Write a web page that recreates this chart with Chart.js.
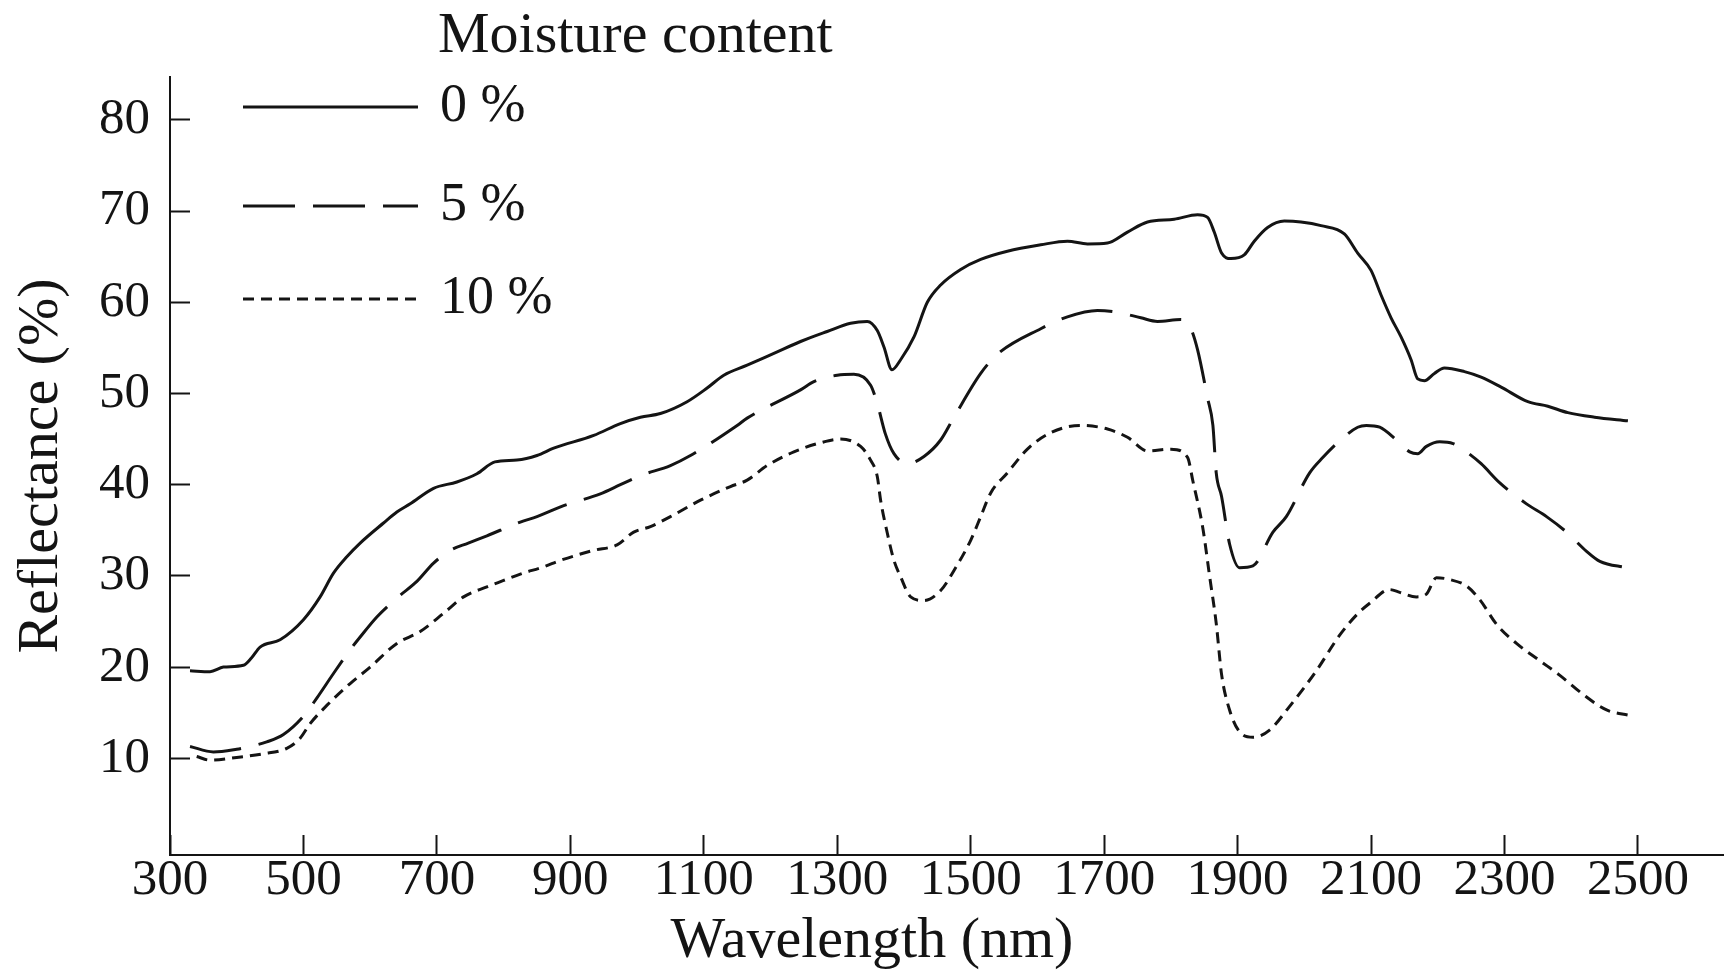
<!DOCTYPE html>
<html>
<head>
<meta charset="utf-8">
<script src="https://cdn.jsdelivr.net/npm/chart.js@4.4.1/dist/chart.umd.min.js"></script>
<style>
  html, body { margin: 0; padding: 0; background: #fff; }
  #wrap { width: 1724px; height: 971px; }
</style>
</head>
<body>
<div id="wrap"><canvas id="spectra"></canvas></div>
<script>
// reflectance spectra, one pair of arrays per moisture level
const wl0 = [330, 360, 380, 410, 422, 435, 465, 500, 525, 545, 565, 585, 620, 640, 660, 695, 730, 760, 787, 820,
  850, 875, 935, 975, 1005, 1035, 1075, 1105, 1130, 1165, 1205, 1245, 1285, 1320, 1345, 1360, 1370, 1382, 1395, 1415,
  1435, 1455, 1485, 1515, 1555, 1605, 1645, 1675, 1705, 1735, 1765, 1805, 1840, 1855, 1865, 1876, 1890, 1910, 1925, 1945,
  1970, 1995, 2025, 2060, 2080, 2100, 2115, 2130, 2145, 2160, 2170, 2180, 2195, 2210, 2240, 2265, 2295, 2335, 2365, 2395,
  2435, 2485];
const refl0 = [19.6, 19.5, 20.0, 20.2, 21.0, 22.2, 23.0, 25.2, 27.7, 30.3, 32.1, 33.6, 35.8, 37.0, 37.9, 39.6, 40.3, 41.2, 42.5, 42.7,
  43.2, 44.0, 45.4, 46.7, 47.4, 47.8, 49.1, 50.6, 52.0, 53.1, 54.4, 55.7, 56.8, 57.7, 57.9, 56.9, 55.1, 52.6, 53.7, 56.2,
  60.0, 61.9, 63.6, 64.7, 65.6, 66.3, 66.7, 66.4, 66.5, 67.7, 68.8, 69.1, 69.6, 69.3, 67.7, 65.4, 64.8, 65.2, 66.7, 68.2,
  68.9, 68.8, 68.4, 67.5, 65.4, 63.5, 60.8, 58.3, 56.2, 53.7, 51.6, 51.4, 52.2, 52.8, 52.4, 51.8, 50.7, 49.1, 48.6, 47.9,
  47.4, 47.0];

const wl5 = [330, 365, 400, 420, 445, 470, 500, 520, 545, 570, 585, 610, 642, 670, 695, 720, 747, 775, 825, 850,
  890, 945, 975, 1005, 1050, 1080, 1150, 1165, 1245, 1265, 1300, 1325, 1350, 1360, 1372, 1385, 1405, 1430, 1455, 1475,
  1515, 1540, 1605, 1645, 1690, 1720, 1755, 1780, 1815, 1830, 1840, 1855, 1863, 1868, 1876, 1888, 1903, 1923, 1953, 1973,
  2008, 2028, 2053, 2080, 2093, 2113, 2138, 2158, 2170, 2183, 2203, 2223, 2243, 2265, 2293, 2333, 2363, 2393, 2423, 2443,
  2483];
const refl5 = [11.3, 10.7, 11.0, 11.3, 11.8, 12.6, 14.6, 16.6, 19.3, 21.9, 23.3, 25.5, 27.7, 29.4, 31.4, 32.8, 33.6, 34.4, 35.9, 36.5,
  37.7, 39.0, 40.0, 41.0, 42.1, 43.2, 46.5, 47.3, 50.4, 51.3, 52.0, 52.1, 50.9, 48.9, 45.6, 43.4, 42.3, 43.1, 44.9, 47.4,
  52.2, 54.3, 57.1, 58.4, 59.1, 58.9, 58.3, 57.9, 58.1, 57.1, 54.8, 49.5, 46.5, 41.3, 38.7, 33.5, 30.9, 31.1, 34.8, 36.5,
  41.3, 43.0, 44.8, 46.3, 46.5, 46.3, 44.9, 43.6, 43.4, 44.2, 44.7, 44.5, 43.6, 42.3, 40.2, 37.9, 36.5, 34.8, 32.7, 31.6,
  30.9];

const wl10 = [340, 360, 400, 440, 475, 495, 510, 535, 570, 600, 640, 675, 710, 740, 775, 800, 825, 860, 885, 935,
  970, 995, 1020, 1050, 1095, 1140, 1165, 1195, 1235, 1275, 1305, 1335, 1350, 1360, 1365, 1375, 1385, 1395, 1410, 1430,
  1455, 1475, 1500, 1515, 1530, 1555, 1585, 1620, 1665, 1705, 1735, 1765, 1800, 1825, 1833, 1848, 1858, 1868, 1876, 1888,
  1903, 1923, 1948, 1978, 2018, 2053, 2078, 2098, 2128, 2143, 2168, 2183, 2198, 2218, 2243, 2263, 2288, 2318, 2353, 2383,
  2418, 2453, 2488];
const refl10 = [10.2, 9.8, 10.1, 10.5, 11.1, 12.2, 13.8, 15.8, 18.2, 20.0, 22.6, 23.9, 25.9, 27.7, 28.8, 29.5, 30.2, 31.0, 31.7, 32.8,
  33.4, 34.8, 35.4, 36.5, 38.3, 39.8, 40.5, 42.1, 43.6, 44.6, 45.0, 44.2, 42.7, 40.9, 38.3, 34.7, 31.7, 29.9, 27.7, 27.3,
  28.4, 30.6, 33.9, 36.5, 39.1, 41.3, 43.9, 45.7, 46.5, 46.1, 45.2, 43.7, 43.9, 43.0, 40.4, 35.2, 30.0, 24.8, 19.2, 15.3,
  12.9, 12.3, 13.1, 15.7, 19.6, 23.5, 25.7, 27.0, 28.5, 28.2, 27.7, 28.0, 29.8, 29.6, 28.9, 27.4, 24.7, 22.6, 20.7, 19.1,
  17.0, 15.3, 14.7];

const seriesLabels = ['0 %', '5 %', '10 %'];
const xTicks = [300, 500, 700, 900, 1100, 1300, 1500, 1700, 1900, 2100, 2300, 2500];
const yTicks = [10, 20, 30, 40, 50, 60, 70, 80];

const ink = '#141414';
const serif = '"Liberation Serif", "Times New Roman", serif';
Chart.defaults.font.family = serif;
Chart.defaults.color = ink;

function toPoints(xs, ys) {
  return xs.map((x, i) => ({ x: x, y: ys[i] }));
}

// legend sits inside the plot, top left, with its heading above the axis
const insideLegend = {
  id: 'insideLegend',
  afterDraw(chart, args, opts) {
    const ctx = chart.ctx;
    ctx.save();
    ctx.fillStyle = ink;
    ctx.textAlign = 'left';
    ctx.textBaseline = 'alphabetic';
    ctx.font = '58px ' + serif;
    ctx.fillText(opts.title, 438, 52);

    chart.data.datasets.forEach((ds, i) => {
      const y = opts.rows[i];
      ctx.beginPath();
      ctx.setLineDash(ds.borderDash || []);
      ctx.lineWidth = ds.borderWidth;
      ctx.strokeStyle = ds.borderColor;
      ctx.moveTo(243, y);
      ctx.lineTo(418, y);
      ctx.stroke();
      ctx.setLineDash([]);
      ctx.font = '54px ' + serif;
      ctx.textBaseline = 'middle';
      ctx.fillText(ds.label, 440, y);
    });

    // x title is not centred on the axis in the original
    ctx.font = '58px ' + serif;
    ctx.textAlign = 'center';
    ctx.textBaseline = 'alphabetic';
    ctx.fillText(opts.xTitle, 872, 957);
    ctx.restore();
  }
};

const ctx = document.getElementById('spectra').getContext('2d');
new Chart(ctx, {
  type: 'line',
  data: {
    datasets: [
      { label: seriesLabels[0], data: toPoints(wl0, refl0), borderColor: ink, borderWidth: 3, borderDash: [] },
      { label: seriesLabels[1], data: toPoints(wl5, refl5), borderColor: ink, borderWidth: 3, borderDash: [52, 18] },
      { label: seriesLabels[2], data: toPoints(wl10, refl10), borderColor: ink, borderWidth: 3, borderDash: [11, 7] }
    ]
  },
  options: {
    responsive: true,
    maintainAspectRatio: false,
    devicePixelRatio: 1,
    animation: false,
    layout: { padding: { top: 77, left: 0, right: 0, bottom: 0 } },
    elements: {
      point: { radius: 0 },
      line: { cubicInterpolationMode: 'monotone', fill: false }
    },
    scales: {
      x: {
        type: 'linear',
        min: 300,
        max: 2629,
        afterBuildTicks: (s) => { s.ticks = xTicks.map(v => ({ value: v })); },
        afterFit: (s) => { s.height = 116; },
        ticks: { autoSkip: false, maxRotation: 0, padding: 15, font: { size: 51 }, callback: (v) => String(v) },
        grid: { drawOnChartArea: false, drawTicks: true, tickLength: -20, tickWidth: 2, tickColor: ink },
        border: { display: true, color: ink, width: 2 }
      },
      y: {
        type: 'linear',
        min: -0.6,
        max: 84.7,
        afterBuildTicks: (s) => { s.ticks = yTicks.map(v => ({ value: v })); },
        afterFit: (s) => { s.width = 170; },
        ticks: { padding: 40, font: { size: 51 }, callback: (v) => String(v) },
        grid: { drawOnChartArea: false, drawTicks: true, tickLength: -20, tickWidth: 2, tickColor: ink },
        border: { display: true, color: ink, width: 2 },
        title: { display: true, text: 'Reflectance (%)', font: { size: 58 }, padding: { top: 7, bottom: 0 } }
      }
    },
    plugins: {
      legend: { display: false },
      tooltip: { enabled: false },
      insideLegend: { title: 'Moisture content', rows: [107, 206, 299], xTitle: 'Wavelength (nm)' }
    }
  },
  plugins: [insideLegend]
});
</script>
</body>
</html>
